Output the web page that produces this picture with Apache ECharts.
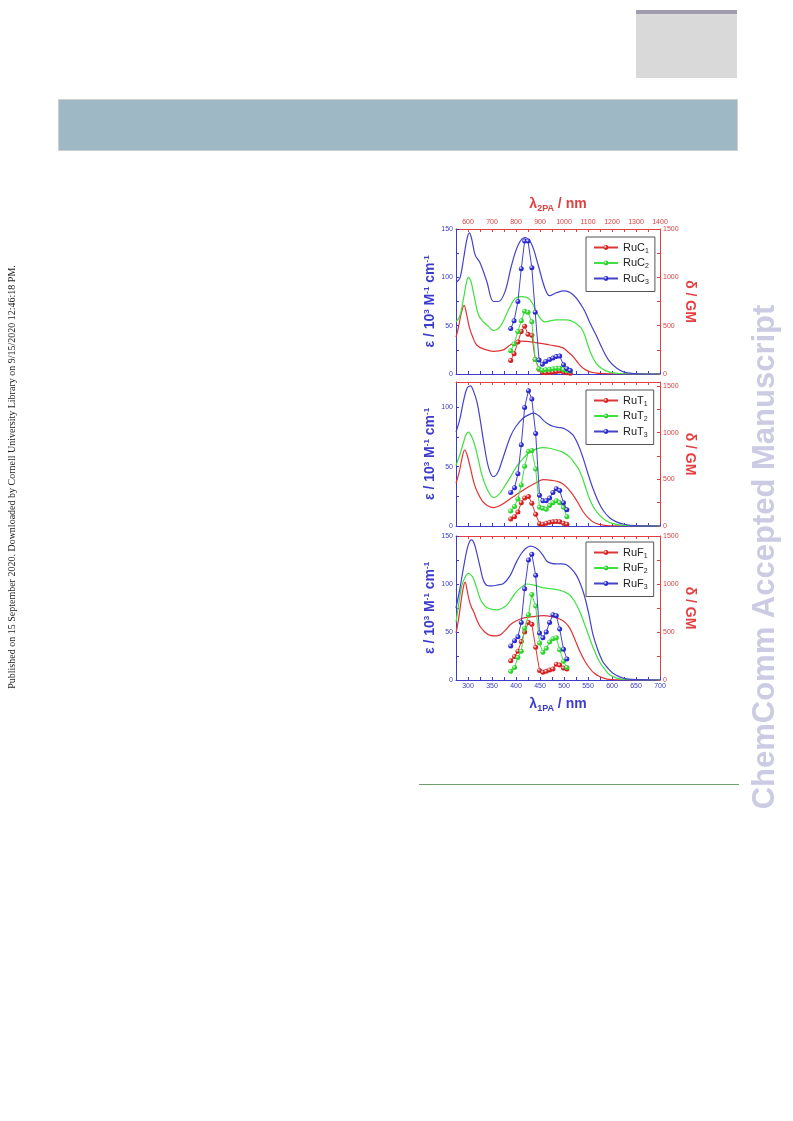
<!DOCTYPE html>
<html><head><meta charset="utf-8">
<script src="https://cdn.jsdelivr.net/npm/echarts@6/dist/echarts.min.js"></script>
<style>html,body{margin:0;padding:0;background:#fff}#c{width:793px;height:1121px}</style>
</head><body><div id="c"></div><script>
// ---------- tick labels ----------
const X1_LABELS = [300, 350, 400, 450, 500, 550, 600, 650, 700];
const X1_TICKS = [300, 325, 350, 375, 400, 425, 450, 475, 500, 525, 550, 575, 600, 625, 650, 675, 700];
const X2_LABELS = [600, 700, 800, 900, 1000, 1100, 1200, 1300, 1400];
const X2_TICKS = [600, 650, 700, 750, 800, 850, 900, 950, 1000, 1050, 1100, 1150, 1200, 1250, 1300, 1350, 1400];
const EPS_LABELS_A = [0, 50, 100, 150];
const EPS_LABELS_B = [0, 50, 100];
const EPS_TICKS_A = [0, 25, 50, 75, 100, 125, 150];
const EPS_TICKS_B = [0, 25, 50, 75, 100];
const GM_LABELS = [0, 500, 1000, 1500];
const GM_TICKS = [0, 250, 500, 750, 1000, 1250, 1500];

// ---------- series names ----------
const NAMES_C = ['RuC1', 'RuC2', 'RuC3'];
const NAMES_T = ['RuT1', 'RuT2', 'RuT3'];
const NAMES_F = ['RuF1', 'RuF2', 'RuF3'];

// ---------- one-photon absorption spectra (nm, epsilon / 10^3 M-1 cm-1) ----------
const ABS_C1_NM = [275, 280, 286, 292, 297, 303, 310, 318, 332, 353, 374, 388, 408, 436, 470, 498, 510, 519, 530, 540, 553, 567, 585, 610, 700];
const ABS_C1 = [38, 48, 63, 71, 62, 48, 38, 30, 26, 23.5, 25, 30, 34, 33, 30, 27, 22, 18, 11, 6, 2.5, 1, 0.3, 0, 0];
const ABS_C2_NM = [275, 283, 291, 297, 301, 306, 311, 322, 332, 343, 353, 367, 384, 398, 411, 429, 446, 460, 484, 505, 526, 540, 553, 567, 581, 595, 615, 640, 700];
const ABS_C2 = [54, 60, 79, 95, 100, 96, 85, 61, 54, 49, 45, 49, 66, 78, 80, 77, 61, 54, 56, 56, 52, 44, 25, 11, 5, 2, 0.5, 0, 0];
const ABS_C3_NM = [275, 283, 291, 298, 303, 308, 315, 325, 339, 353, 363, 377, 391, 405, 419, 432, 446, 460, 470, 484, 500, 519, 540, 555, 567, 581, 595, 610, 625, 645, 670, 700];
const ABS_C3 = [95, 99, 120, 140, 146, 139, 123, 115, 96, 75, 75, 85, 113, 134, 141, 135, 113, 89, 81, 84, 86, 82, 68, 52, 40, 25, 13, 6, 2, 0.5, 0, 0];

const ABS_T1_NM = [275, 282, 288, 293, 298, 305, 312, 319, 330, 341, 353, 370, 388, 405, 422, 440, 457, 474, 491, 505, 519, 530, 540, 550, 560, 575, 595, 700];
const ABS_T1 = [36, 46, 58, 64, 60, 49, 37, 29, 21, 17, 15.5, 18, 23, 27.5, 32, 36, 39, 38.5, 37, 33, 26, 19, 12, 7, 3.6, 1.2, 0.2, 0];
const ABS_T2_NM = [275, 283, 291, 296, 301, 308, 315, 322, 329, 340, 353, 363, 374, 388, 401, 415, 429, 443, 457, 470, 484, 498, 512, 522, 533, 543, 553, 563, 574, 588, 602, 625, 700];
const ABS_T2 = [51, 60, 71, 77, 79, 75, 67, 55, 43, 31, 24, 26, 32, 41, 50, 57, 62.5, 65, 66, 65.5, 64, 62, 58, 53, 46, 35, 23, 15, 9, 4.5, 2, 0.5, 0];
const ABS_T3_NM = [275, 283, 291, 298, 305, 312, 319, 326, 333, 343, 353, 362, 371, 388, 400, 415, 428, 437, 447, 457, 467, 477, 488, 498, 509, 519, 530, 540, 550, 560, 570, 581, 595, 609, 625, 650, 700];
const ABS_T3 = [79, 90, 106, 116, 118, 113, 104, 88, 70, 49, 41.5, 45, 55, 75, 84, 91, 94, 95, 93, 89, 86, 84, 83, 82.5, 80, 76.5, 68, 57, 44, 32, 22, 13.5, 7, 3.5, 1.5, 0.3, 0];

const ABS_F1_NM = [275, 280, 285, 290, 294, 298, 302, 307, 312, 318, 325, 335, 346, 357, 367, 378, 388, 400, 415, 435, 457, 474, 491, 502, 512, 522, 533, 543, 553, 563, 574, 590, 610, 700];
const ABS_F1 = [49, 62, 80, 96, 102, 94, 84, 76, 71, 63, 56, 50, 46.5, 46, 47, 52, 57.5, 61.5, 64.5, 66, 67, 66, 63.5, 60, 54, 43, 30, 20, 12.5, 7, 3.7, 1, 0.2, 0];
const ABS_F2_NM = [275, 281, 287, 294, 301, 306, 311, 318, 325, 332, 339, 350, 360, 370, 381, 391, 401, 412, 422, 440, 457, 474, 491, 502, 512, 522, 533, 543, 553, 563, 574, 585, 595, 610, 630, 700];
const ABS_F2 = [60, 80, 98, 107, 111, 109.5, 106, 96, 85, 79, 75.5, 73.5, 73, 74.5, 78, 85, 92, 97, 100, 98.5, 96, 95, 93.5, 91.5, 88.5, 82, 71, 58, 44, 31, 19, 11, 5.5, 2, 0.5, 0];
const ABS_F3_NM = [275, 283, 291, 298, 304, 308, 313, 318, 325, 332, 340, 350, 362, 374, 388, 400, 410, 420, 430, 440, 448, 456, 464, 474, 484, 495, 505, 515, 526, 535, 543, 552, 560, 570, 581, 592, 602, 615, 630, 660, 700];
const ABS_F3 = [75, 95, 118, 136, 145, 146, 142, 133, 118, 104, 98.5, 98, 99, 100.5, 109, 122, 131, 137, 139.5, 138, 135, 130, 124, 121.5, 121, 121, 120, 116, 109, 99, 87, 68, 48, 32, 19, 12, 7, 3.5, 1.2, 0.3, 0];

// ---------- two-photon cross sections (1PA-equivalent nm, delta / GM) ----------
const TPA_C_NM = [389, 396, 404, 411, 418, 425, 433, 440, 448, 455, 462, 470, 477, 484, 491, 499, 506, 513];
const TPA_C1 = [140, 210, 330, 440, 495, 410, 400, 150, 50, 15, 12, 15, 20, 25, 30, 20, 12, 8];
const TPA_C2 = [240, 310, 440, 550, 650, 640, 540, 150, 55, 40, 45, 50, 55, 60, 60, 45, 35, 30];
const TPA_C3 = [470, 550, 750, 1090, 1375, 1375, 1100, 640, 145, 100, 130, 150, 165, 180, 185, 95, 55, 35];

const TPA_T_NM = [389, 397, 404, 411, 418, 426, 433, 441, 449, 456, 463, 470, 477, 484, 491, 499, 506];
const TPA_T1 = [75, 100, 150, 250, 300, 315, 245, 125, 25, 20, 30, 40, 45, 48, 45, 30, 20];
const TPA_T2 = [160, 210, 290, 440, 640, 800, 810, 610, 200, 190, 180, 220, 250, 270, 250, 200, 100];
const TPA_T3 = [360, 410, 560, 870, 1270, 1450, 1360, 990, 330, 270, 270, 300, 360, 400, 380, 250, 175];

const TPA_F_NM = [389, 397, 404, 411, 418, 426, 433, 441, 449, 456, 463, 470, 477, 484, 491, 499, 506];
const TPA_F1 = [200, 245, 300, 400, 500, 600, 580, 340, 100, 80, 90, 105, 115, 165, 155, 125, 115];
const TPA_F2 = [90, 130, 235, 300, 540, 680, 890, 770, 385, 290, 330, 395, 430, 440, 315, 195, 130];
const TPA_F3 = [355, 410, 450, 600, 950, 1250, 1310, 1090, 490, 440, 500, 600, 680, 670, 530, 320, 220];

// ---------- styling ----------
const AX_BLUE = '#3b3bcc', AX_RED = '#e04040';
const COLORS = ['#e03434', '#3fe03f', '#4343c8'];
const DOT = ['#d42020', '#2ad42a', '#2a2ad0'];
const FONT = '"Liberation Sans", Arial, sans-serif';

const zip = (xs, ys) => xs.map((x, i) => [x, ys[i]]);
const ball = c => ({ type: 'radial', x: 0.35, y: 0.35, r: 0.75,
  colorStops: [{ offset: 0, color: '#ffffff' }, { offset: 0.45, color: c }, { offset: 1, color: c }] });

const PANELS = [
  { top: 229, height: 145, epsMax: 150, gmMax: 1500, epsLabels: EPS_LABELS_A, epsTicks: EPS_TICKS_A, names: NAMES_C,
    abs: [[ABS_C1_NM, ABS_C1], [ABS_C2_NM, ABS_C2], [ABS_C3_NM, ABS_C3]], tpaNm: TPA_C_NM, tpa: [TPA_C1, TPA_C2, TPA_C3], legendTop: 237 },
  { top: 382, height: 144, epsMax: 121.3, gmMax: 1543, epsLabels: EPS_LABELS_B, epsTicks: EPS_TICKS_B, names: NAMES_T,
    abs: [[ABS_T1_NM, ABS_T1], [ABS_T2_NM, ABS_T2], [ABS_T3_NM, ABS_T3]], tpaNm: TPA_T_NM, tpa: [TPA_T1, TPA_T2, TPA_T3], legendTop: 390 },
  { top: 536, height: 144, epsMax: 150, gmMax: 1500, epsLabels: EPS_LABELS_A, epsTicks: EPS_TICKS_A, names: NAMES_F,
    abs: [[ABS_F1_NM, ABS_F1], [ABS_F2_NM, ABS_F2], [ABS_F3_NM, ABS_F3]], tpaNm: TPA_F_NM, tpa: [TPA_F1, TPA_F2, TPA_F3], legendTop: 542 }
];

const grid = [], xAxis = [], yAxis = [], series = [], legend = [];
const tickLbl = (c) => ({ fontSize: 7, color: c, fontFamily: FONT, margin: 3, formatter: v => String(v) });

PANELS.forEach((p, gi) => {
  grid.push({ left: 456, top: p.top, width: 204, height: p.height });
  // bottom λ1PA axis
  xAxis.push({
    type: 'value', gridIndex: gi, position: 'bottom', min: 275, max: 700,
    axisLine: { onZero: false, lineStyle: { color: AX_BLUE, width: 1 } },
    axisTick: { inside: true, length: 3, customValues: X1_TICKS, lineStyle: { color: AX_BLUE } },
    axisLabel: Object.assign({ show: gi === 2, customValues: X1_LABELS }, tickLbl(AX_BLUE)),
    splitLine: { show: false },
    name: gi === 2 ? '{l|λ}{s|1PA}{l| / nm}' : '', nameLocation: 'middle', nameGap: 16,
    nameTextStyle: { color: AX_BLUE, fontFamily: FONT, fontWeight: 'bold', fontSize: 14,
      rich: { l: { fontSize: 14, fontWeight: 'bold', color: AX_BLUE, fontFamily: FONT },
              s: { fontSize: 9, fontWeight: 'bold', color: AX_BLUE, fontFamily: FONT, padding: [8, 0, 0, 0] } } }
  });
  // top λ2PA axis
  xAxis.push({
    type: 'value', gridIndex: gi, position: 'top', min: 550, max: 1400,
    axisLine: { onZero: false, lineStyle: { color: AX_RED, width: 1 } },
    axisTick: { inside: true, length: 3, customValues: X2_TICKS, lineStyle: { color: AX_RED } },
    axisLabel: Object.assign({ show: gi === 0, customValues: X2_LABELS }, tickLbl(AX_RED)),
    splitLine: { show: false },
    name: gi === 0 ? '{l|λ}{s|2PA}{l| / nm}' : '', nameLocation: 'middle', nameGap: 16,
    nameTextStyle: { color: AX_RED, fontFamily: FONT, fontWeight: 'bold', fontSize: 14,
      rich: { l: { fontSize: 14, fontWeight: 'bold', color: AX_RED, fontFamily: FONT },
              s: { fontSize: 9, fontWeight: 'bold', color: AX_RED, fontFamily: FONT, padding: [8, 0, 0, 0] } } }
  });
  // left ε axis
  yAxis.push({
    type: 'value', gridIndex: gi, position: 'left', min: 0, max: p.epsMax,
    axisLine: { show: true, onZero: false, lineStyle: { color: AX_BLUE, width: 1 } },
    axisTick: { show: true, inside: true, length: 3, customValues: p.epsTicks, lineStyle: { color: AX_BLUE } },
    axisLabel: Object.assign({ customValues: p.epsLabels }, tickLbl(AX_BLUE)),
    splitLine: { show: false },
    name: '{n|ε / 10}{p|3}{n| M}{p|-1}{n| cm}{p|-1}', nameLocation: 'middle', nameGap: 15,
    nameTextStyle: { color: AX_BLUE, fontFamily: FONT, fontWeight: 'bold', fontSize: 14,
      rich: { n: { fontSize: 14, fontWeight: 'bold', color: AX_BLUE, fontFamily: FONT },
              p: { fontSize: 8, fontWeight: 'bold', color: AX_BLUE, fontFamily: FONT, padding: [0, 0, 8, 0] } } }
  });
  // right δ axis
  yAxis.push({
    type: 'value', gridIndex: gi, position: 'right', min: 0, max: p.gmMax,
    axisLine: { show: true, onZero: false, lineStyle: { color: AX_RED, width: 1 } },
    axisTick: { show: true, inside: true, length: 3, customValues: GM_TICKS, lineStyle: { color: AX_RED } },
    axisLabel: Object.assign({ customValues: GM_LABELS }, tickLbl(AX_RED)),
    splitLine: { show: false },
    name: 'δ / GM', nameLocation: 'middle', nameGap: 11, nameRotate: -90,
    nameTextStyle: { color: AX_RED, fontFamily: FONT, fontWeight: 'bold', fontSize: 14 }
  });
  // spectra
  p.abs.forEach((a, k) => {
    series.push({
      type: 'line', name: p.names[k] + ' 1PA', xAxisIndex: 2 * gi, yAxisIndex: 2 * gi,
      data: zip(a[0], a[1]), smooth: 0.35, showSymbol: false, silent: true, z: 2,
      lineStyle: { color: COLORS[k], width: 1.2 }, itemStyle: { color: COLORS[k] }
    });
  });
  // 2PA data
  p.tpa.forEach((d, k) => {
    series.push({
      type: 'line', name: p.names[k], xAxisIndex: 2 * gi, yAxisIndex: 2 * gi + 1,
      data: zip(p.tpaNm, d), symbol: 'circle', symbolSize: 5, showAllSymbol: true, z: 3 + k,
      lineStyle: { color: COLORS[k], width: 1 }, itemStyle: { color: ball(DOT[k]) }
    });
  });
  legend.push({
    orient: 'vertical', left: 586, top: p.legendTop, data: p.names,
    itemWidth: 24, itemHeight: 6, itemGap: 3, padding: [5, 6, 6, 7],
    borderColor: '#555', borderWidth: 1, backgroundColor: '#fff', selectedMode: false,
    formatter: n => '{a|' + n.slice(0, -1) + '}{s|' + n.slice(-1) + '}',
    textStyle: { fontSize: 11, color: '#222', fontFamily: FONT,
      rich: { a: { fontSize: 11, color: '#222', fontFamily: FONT }, s: { fontSize: 7, color: '#222', fontFamily: FONT, padding: [7, 0, 0, 0] } } }
  });
});

const graphic = [
  { type: 'rect', shape: { x: 636, y: 10, width: 101, height: 68 }, style: { fill: '#d9d9d9' }, silent: true },
  { type: 'rect', shape: { x: 636, y: 10, width: 101, height: 4 }, style: { fill: '#a19cab' }, silent: true },
  { type: 'rect', shape: { x: 58.5, y: 99.5, width: 679, height: 51 }, style: { fill: '#9fb8c6', stroke: '#cfcfcf', lineWidth: 1 }, silent: true },
  { type: 'line', shape: { x1: 419, y1: 784.5, x2: 739, y2: 784.5 }, style: { stroke: '#6c9f6c', lineWidth: 1 }, silent: true },
  { type: 'text', x: 12, y: 477, rotation: Math.PI / 2, silent: true,
    style: { text: 'Published on 15 September 2020. Downloaded by Cornell University Library on 9/15/2020 12:46:18 PM.',
      font: '10px "Liberation Serif", "Times New Roman", serif', fill: '#222', align: 'center', verticalAlign: 'middle' } },
  { type: 'text', x: 765, y: 557, rotation: Math.PI / 2, silent: true,
    style: { text: 'ChemComm Accepted Manuscript', font: 'bold 31px "Liberation Sans", Arial, sans-serif',
      fill: '#cbcbe3', align: 'center', verticalAlign: 'middle' } }
];

const chart = echarts.init(document.getElementById('c'), null, { renderer: 'canvas' });
chart.setOption({ animation: false, backgroundColor: '#fff', grid, xAxis, yAxis, series, legend, graphic });
</script></body></html>
